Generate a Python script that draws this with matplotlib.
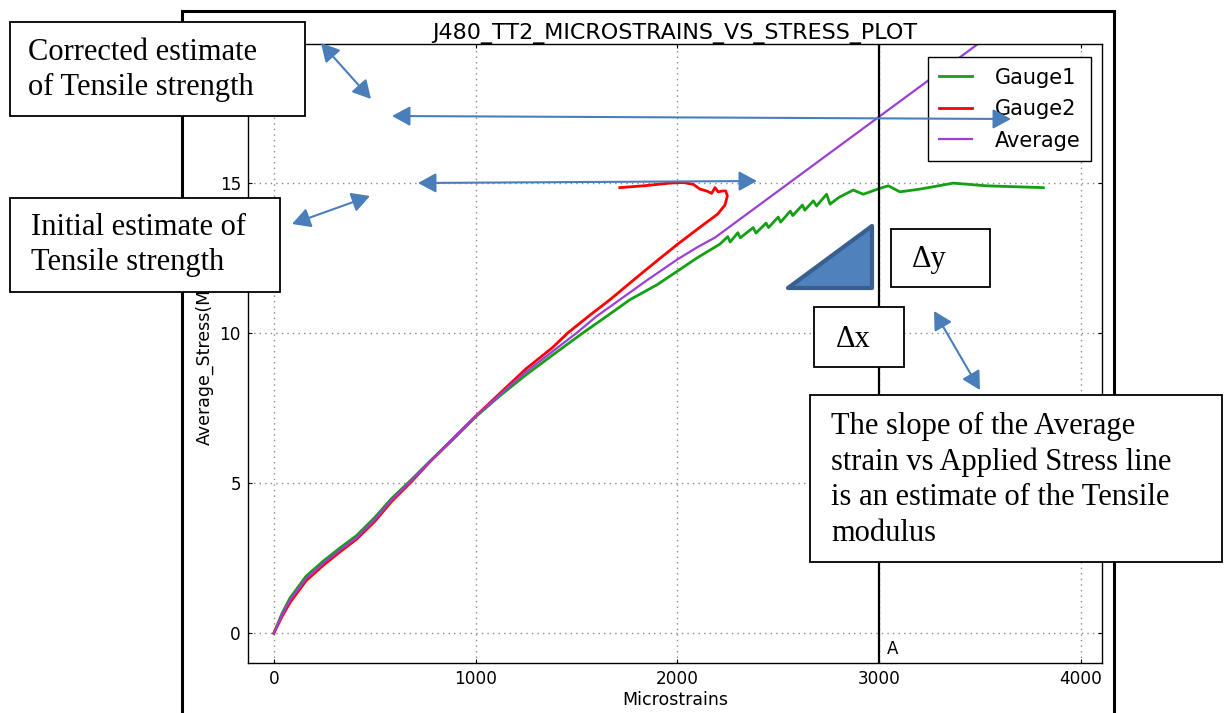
import matplotlib
matplotlib.use("Agg")
import matplotlib.pyplot as plt
from matplotlib.patches import Rectangle, FancyArrowPatch, Polygon

W, H = 1224, 713

# ---- data ----
strain_g1 = [0, 40, 80, 160, 245, 330, 410, 500, 583, 680, 773, 880, 1000, 1120,
             1250, 1380, 1533, 1650, 1765, 1900, 2000, 2100, 2211, 2250, 2262,
             2300, 2312, 2376, 2390, 2440, 2452, 2500, 2512, 2560, 2572, 2620,
             2632, 2674, 2690, 2740, 2757, 2800, 2872, 2922, 3001, 3046, 3103,
             3202, 3368, 3533, 3814]
stress_g1 = [0, 0.65, 1.17, 1.9, 2.4, 2.85, 3.25, 3.85, 4.48, 5.1, 5.72, 6.4, 7.2, 7.9,
             8.6, 9.25, 10.0, 10.55, 11.1, 11.6, 12.05, 12.5, 12.95, 13.2, 13.02,
             13.33, 13.16, 13.5, 13.32, 13.65, 13.5, 13.85, 13.68, 14.05, 13.9, 14.25,
             14.08, 14.39, 14.22, 14.61, 14.28, 14.5, 14.75, 14.61, 14.8, 14.89, 14.69,
             14.78, 14.98, 14.89, 14.83]

strain_g2 = [0, 40, 80, 160, 245, 330, 410, 500, 583, 680, 773, 880, 1000, 1120,
             1250, 1380, 1458, 1560, 1666, 1800, 1900, 2000, 2100, 2200, 2236, 2248,
             2240, 2226, 2202, 2187, 2170, 2145, 2112, 2079, 2030, 1963, 1831, 1715]
stress_g2 = [0, 0.55, 1.02, 1.75, 2.26, 2.72, 3.13, 3.72, 4.38, 5.03, 5.7, 6.42, 7.22, 7.98,
             8.8, 9.5, 10.0, 10.55, 11.1, 11.85, 12.4, 12.94, 13.45, 13.95, 14.25, 14.55,
             14.72, 14.72, 14.69, 14.83, 14.64, 14.72, 14.78, 14.94, 15.0, 14.98, 14.89, 14.83]

strain_avg = [0, 40, 80, 160, 245, 330, 410, 500, 583, 680, 773, 880, 1000, 1120,
              1250, 1380, 1502, 1600, 1715, 1850, 2000, 2100, 2187, 3000, 3500, 3820]
stress_avg = [0, 0.6, 1.1, 1.82, 2.33, 2.78, 3.18, 3.78, 4.43, 5.07, 5.71, 6.41, 7.21, 7.94,
              8.7, 9.37, 10.0, 10.55, 11.1, 11.75, 12.44, 12.85, 13.17, 17.19, 19.66, 21.24]

x_ticks = [0, 1000, 2000, 3000, 4000]
y_ticks = [0, 5, 10, 15]
marker_x = 3000


def fx(px):
    return px / W


def fy(py):
    return 1 - py / H


fig = plt.figure(figsize=(W / 100, H / 100), dpi=100)
fig.patch.set_facecolor("white")

ax = fig.add_axes([fx(248), fy(663.3), (1102 - 248) / W, (663.3 - 44.3) / H])
ax.plot(strain_g1, stress_g1, color="#14a014", lw=2, label="Gauge1")
ax.plot(strain_g2, stress_g2, color="#ff0000", lw=2, label="Gauge2")
ax.plot(strain_avg, stress_avg, color="#9b3fd5", lw=1.6, label="Average")
ax.axvline(marker_x, color="black", lw=1.6)
ax.text(marker_x + 40, -0.52, "A", fontsize=12, va="center", ha="left")

ax.set_xlim(-128, 4105)
ax.set_ylim(-1, 19.6)
ax.set_xticks(x_ticks)
ax.set_yticks(y_ticks)
ax.tick_params(direction="in", top=True, right=True, length=3, labelsize=12.2, pad=5)
ax.grid(True, color="#888888", linestyle=(0, (1, 3)), lw=1)
for s in ax.spines.values():
    s.set_linewidth(1)
ax.set_title("J480_TT2_MICROSTRAINS_VS_STRESS_PLOT", fontsize=16, pad=4)
ax.set_xlabel("Microstrains", fontsize=12.5, labelpad=2)
ax.set_ylabel("Average_Stress(MPa)", fontsize=12.5, labelpad=4)

leg = ax.legend(loc="upper right", bbox_to_anchor=(1 - 11 / 854, 1 - 13 / 619),
                borderaxespad=0, fontsize=15, handlelength=1.6, handletextpad=1.1,
                labelspacing=0.55, borderpad=0.5, fancybox=False, framealpha=1)
leg.get_frame().set_edgecolor("black")
leg.get_frame().set_linewidth(1)

# ---- outer frame of the pasted picture ----
fig.add_artist(Rectangle((fx(182), -0.1), (1114 - 182) / W, fy(11) + 0.1,
                         transform=fig.transFigure, fill=False, edgecolor="black",
                         lw=2.2, zorder=1))


def box(x0, y0, x1, y1):
    fig.add_artist(Rectangle((fx(x0), fy(y1)), (x1 - x0) / W, (y1 - y0) / H,
                             transform=fig.transFigure, facecolor="white",
                             edgecolor="black", lw=1.3, zorder=2))


serif = ["Liberation Serif", "DejaVu Serif"]


def note(x, y, s, ha="left"):
    fig.text(fx(x), fy(y), s, fontsize=22, family=serif, ha=ha, va="center",
             linespacing=1.28, zorder=3)


box(10, 22, 305, 116)
note(28, 70, "Corrected estimate\nof Tensile strength")
box(10, 198, 280, 292)
note(31, 245, "Initial estimate of\nTensile strength")
box(891, 229, 990, 287)
note(912, 260, "\u0394y")
box(814, 307, 904, 367)
note(836, 339, "\u0394x")
box(810, 395, 1222, 562)
note(831, 480, "The slope of the Average\nstrain vs Applied Stress line\n"
     "is an estimate of the Tensile\nmodulus")

# ---- blue arrows ----
arrow_color = "#4a7ebb"
arrows = [((321, 43), (371, 99)),
          ((392, 116), (1011, 119)),
          ((418, 183), (757, 181)),
          ((292, 224), (370, 196)),
          ((934, 311), (980, 390))]
for (x0, y0), (x1, y1) in arrows:
    fig.add_artist(FancyArrowPatch((fx(x0), fy(y0)), (fx(x1), fy(y1)),
                                   transform=fig.transFigure,
                                   arrowstyle="<|-|>,head_length=0.55,head_width=0.3",
                                   mutation_scale=20, color=arrow_color, lw=1.5,
                                   shrinkA=0, shrinkB=0, zorder=4))

# ---- slope triangle ----
fig.add_artist(Polygon([(fx(788), fy(288)), (fx(872), fy(226)), (fx(872), fy(288))],
                       closed=True, transform=fig.transFigure, facecolor="#4f81bd",
                       edgecolor="#3a5f8f", lw=3, joinstyle="round", zorder=4))

fig.savefig("out.png", dpi=100)
